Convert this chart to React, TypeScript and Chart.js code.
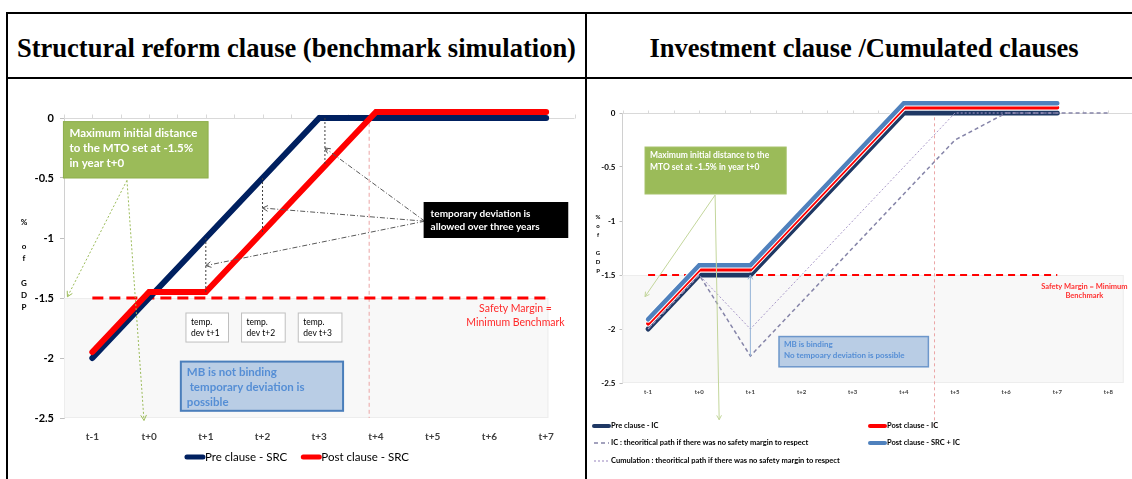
import React, { useEffect, useRef } from 'react';
import { Chart, registerables } from 'chart.js';

Chart.register(...registerables);

const SANS = 'Lato, "Open Sans", "DejaVu Sans", sans-serif';
const SERIF = '"Liberation Serif", "Times New Roman", serif';

// ---------------- Left panel: structural reform clause ----------------
const srcCategories = ['t-1', 't+0', 't+1', 't+2', 't+3', 't+4', 't+5', 't+6', 't+7'];
const srcPreClause = [-2, -1.5, -1, -0.5, 0, 0, 0, 0, 0];
const srcPostClause = [-1.95, -1.45, -1.45, -0.95, -0.45, 0.05, 0.05, 0.05, 0.05];
const srcSafetyMargin = [-1.5, -1.5, -1.5, -1.5, -1.5, -1.5, -1.5, -1.5, -1.5];
const srcYTicks = [-2.5, -2, -1.5, -1, -0.5, 0];
const srcYTitle = ['%', '', 'o', 'f', '', 'G', 'D', 'P'];
const srcGreenText = ['Maximum initial distance', 'to the MTO set at -1.5%', 'in year t+0'];
const srcBlackText = ['temporary deviation is', 'allowed over three years'];
const srcTempText = [['temp.', 'dev t+1'], ['temp.', 'dev t+2'], ['temp.', 'dev t+3']];
const srcBlueText = ['MB is not binding', ' temporary deviation is', 'possible'];
const srcSafetyText = ['Safety Margin =', 'Minimum Benchmark'];

// ---------------- Right panel: investment clause / cumulated ----------------
const icCategories = ['t-1', 't+0', 't+1', 't+2', 't+3', 't+4', 't+5', 't+6', 't+7', 't+8'];
const icPreClause = [-2, -1.5, -1.5, -1, -0.5, 0, 0, 0, 0, null];
const icPostClause = [-1.95, -1.45, -1.45, -0.95, -0.45, 0.05, 0.05, 0.05, 0.05, null];
const icPostSrcIc = [-1.91, -1.41, -1.41, -0.91, -0.41, 0.09, 0.09, 0.09, 0.09, null];
const icTheoretical = [-2, -1.5, -2.25, -1.75, -1.25, -0.75, -0.25, 0, 0, 0];
const cumTheoretical = [-2, -1.5, -2, -1.5, -1, -0.5, 0, 0, 0, null];
const icSafetyMargin = [-1.5, -1.5, -1.5, -1.5, -1.5, -1.5, -1.5, -1.5, -1.5, null];
const icYTicks = [-2.5, -2, -1.5, -1, -0.5, 0];
const icYTitle = ['%', 'o', 'f', '', 'G', 'D', 'P'];
const icGreenText = ['Maximum initial distance to the', 'MTO set at -1.5% in year t+0'];
const icBlueText = ['MB is binding', 'No tempoary deviation is possible'];
const icSafetyText = ['Safety Margin = Minimum', 'Benchmark'];

const srcLabels = { pre: 'Pre clause - SRC', post: 'Post clause - SRC' };
const icLabels = {
  pre: 'Pre clause - IC',
  post: 'Post clause - IC',
  both: 'Post clause - SRC + IC',
  ic: 'IC : theoritical path if there was no safety margin to respect',
  cum: 'Cumulation : theoritical path if there was no safety margin to respect',
};

// ---------------- colours ----------------
const NAVY = '#002060';
const NAVY_IC = '#1F3864';
const RED = '#FF0000';
const STEEL = '#4F81BD';
const IC_GREY = '#8584A8';
const CUM_LILAC = '#A999C9';
const GREEN = '#9BBB59';
const MB_FILL = '#B9CDE5';
const MB_TEXT = '#558ED5';
const SHADE = '#F8F8F8';
const PINK = '#EBA5A5';

const font = (size: number, weight = 'normal') => `${weight} ${size}px ${SANS}`;

type P = { x: number; y: number };

function toPx(chart: any, x: number, y: number): P {
  return { x: chart.scales.x.getPixelForValue(x), y: chart.scales.y.getPixelForValue(y) };
}

function line(ctx: CanvasRenderingContext2D, a: P, b: P, color: string, width: number, dash: number[] = []) {
  ctx.save();
  ctx.strokeStyle = color;
  ctx.lineWidth = width;
  ctx.setLineDash(dash);
  ctx.beginPath();
  ctx.moveTo(a.x, a.y);
  ctx.lineTo(b.x, b.y);
  ctx.stroke();
  ctx.restore();
}

function arrow(ctx: CanvasRenderingContext2D, a: P, b: P, color: string, width: number, dash: number[], head = 6) {
  line(ctx, a, b, color, width, dash);
  const ang = Math.atan2(b.y - a.y, b.x - a.x);
  ctx.save();
  ctx.strokeStyle = color;
  ctx.lineWidth = width;
  ctx.beginPath();
  ctx.moveTo(b.x - head * Math.cos(ang - 0.5), b.y - head * Math.sin(ang - 0.5));
  ctx.lineTo(b.x, b.y);
  ctx.lineTo(b.x - head * Math.cos(ang + 0.5), b.y - head * Math.sin(ang + 0.5));
  ctx.stroke();
  ctx.restore();
}

function box(
  ctx: CanvasRenderingContext2D,
  chart: any,
  r: { x0: number; x1: number; y0: number; y1: number },
  s: { fill: string; stroke?: string; strokeW?: number; lines: string[]; font: string; color: string; padX: number; first: number; step: number }
) {
  const a = toPx(chart, r.x0, r.y0);
  const b = toPx(chart, r.x1, r.y1);
  ctx.save();
  ctx.fillStyle = s.fill;
  ctx.fillRect(a.x, a.y, b.x - a.x, b.y - a.y);
  if (s.stroke) {
    ctx.strokeStyle = s.stroke;
    ctx.lineWidth = s.strokeW || 1;
    ctx.strokeRect(a.x, a.y, b.x - a.x, b.y - a.y);
  }
  ctx.font = s.font;
  ctx.fillStyle = s.color;
  ctx.textBaseline = 'middle';
  ctx.textAlign = 'left';
  s.lines.forEach((t, i) => ctx.fillText(t, a.x + s.padX, a.y + s.first + i * s.step));
  ctx.restore();
}

function zeroAxis(chart: any, color: string, tick: number) {
  const { ctx, chartArea } = chart;
  const y = Math.round(chart.scales.y.getPixelForValue(0)) + 0.5;
  ctx.save();
  ctx.strokeStyle = color;
  ctx.lineWidth = 1;
  ctx.beginPath();
  ctx.moveTo(chartArea.left, y);
  ctx.lineTo(chartArea.right, y);
  const n = chart.data.labels.length;
  for (let i = -0.5; i <= n - 0.5 + 1e-6; i += 0.5) {
    const x = Math.round(chart.scales.x.getPixelForValue(i)) + 0.5;
    ctx.moveTo(x, y);
    ctx.lineTo(x, y - tick);
  }
  ctx.stroke();
  ctx.restore();
}

function shade(chart: any, r: { x0: number; x1: number; y0: number; y1: number }) {
  const { ctx } = chart;
  const a = toPx(chart, r.x0, r.y0);
  const b = toPx(chart, r.x1, r.y1);
  ctx.save();
  ctx.fillStyle = SHADE;
  ctx.fillRect(a.x, a.y, b.x - a.x, b.y - a.y);
  ctx.strokeStyle = '#EDEDED';
  ctx.lineWidth = 1;
  ctx.strokeRect(a.x + 0.5, a.y + 0.5, b.x - a.x - 1, b.y - a.y - 1);
  ctx.restore();
}

function stackedTitle(ctx: CanvasRenderingContext2D, letters: string[], x: number, y: number, step: number, f: string) {
  ctx.save();
  ctx.font = f;
  ctx.fillStyle = '#000';
  ctx.textAlign = 'center';
  ctx.textBaseline = 'middle';
  letters.forEach((l, i) => ctx.fillText(l, x, y + i * step));
  ctx.restore();
}

function swatch(ctx: CanvasRenderingContext2D, x: number, y: number, w: number, ds: any) {
  ctx.save();
  ctx.strokeStyle = ds.borderColor;
  ctx.lineWidth = ds.legendWidth || ds.borderWidth;
  ctx.lineCap = ds.borderDash && ds.borderDash.length ? 'butt' : 'round';
  ctx.setLineDash(ds.borderDash || []);
  ctx.beginPath();
  ctx.moveTo(x, y);
  ctx.lineTo(x + w, y);
  ctx.stroke();
  ctx.restore();
}

const lineBase = {
  pointRadius: 0,
  pointHoverRadius: 0,
  fill: false,
  tension: 0,
  clip: false as any,
  borderCapStyle: 'round' as const,
  borderJoinStyle: 'miter' as const,
};

// ---------------- left chart ----------------
function buildSrc(canvas: HTMLCanvasElement) {
  const L = {
    shade: { x0: -0.5, x1: 8.04, y0: -1.5, y1: -2.5 },
    marker: { x: 4.88, y0: -0.04, y1: -2.5 },
    devLines: [
      { x: 2, y0: -1.0, y1: -1.45 },
      { x: 3, y0: -0.5, y1: -0.95 },
      { x: 4.1, y0: 0, y1: -0.4 },
    ],
    devFrom: { x: 5.86, y: -0.86 },
    devTo: [
      { x: 4.1, y: -0.25 },
      { x: 3, y: -0.75 },
      { x: 2, y: -1.23 },
    ],
    green: { x0: -0.51, x1: 2.04, y0: -0.03, y1: -0.5 },
    greenFrom: { x: 0.61, y: -0.52 },
    greenTo: [
      { x: -0.44, y: -1.49 },
      { x: 0.91, y: -2.52 },
    ],
    black: { x0: 5.84, x1: 8.39, y0: -0.7, y1: -1.0 },
    temp: [
      { x0: 1.65, x1: 2.4, y0: -1.625, y1: -1.867 },
      { x0: 2.63, x1: 3.4, y0: -1.625, y1: -1.867 },
      { x0: 3.63, x1: 4.4, y0: -1.625, y1: -1.867 },
    ],
    blue: { x0: 1.56, x1: 4.42, y0: -2.03, y1: -2.44 },
    safety: { x: 7.46, y: [-1.592, -1.708] },
  };

  const notes = {
    id: 'srcNotes',
    beforeDatasetsDraw(chart: any) {
      const { ctx } = chart;
      shade(chart, L.shade);
      zeroAxis(chart, '#D9D9D9', 4);
      line(ctx, toPx(chart, L.marker.x, L.marker.y0), toPx(chart, L.marker.x, L.marker.y1), PINK, 1, [4, 3]);
    },
    afterDatasetsDraw(chart: any) {
      const { ctx } = chart;
      L.devLines.forEach((d) => line(ctx, toPx(chart, d.x, d.y0), toPx(chart, d.x, d.y1), '#404040', 1, [2, 2]));
      const from = toPx(chart, L.devFrom.x, L.devFrom.y);
      L.devTo.forEach((t) => arrow(ctx, from, toPx(chart, t.x, t.y), '#595959', 1, [5, 2, 1, 2], 6));
      const gf = toPx(chart, L.greenFrom.x, L.greenFrom.y);
      L.greenTo.forEach((t) => arrow(ctx, gf, toPx(chart, t.x, t.y), GREEN, 1, [2, 2], 6));
      box(ctx, chart, L.green, {
        fill: GREEN, stroke: '#8DAE4C', lines: srcGreenText, font: font(11.5, 'bold'), color: '#FFFFFF', padX: 6, first: 12, step: 15,
      });
      box(ctx, chart, L.black, {
        fill: '#000000', lines: srcBlackText, font: font(10, 'bold'), color: '#FFFFFF', padX: 7, first: 12, step: 13,
      });
      L.temp.forEach((r, i) =>
        box(ctx, chart, r, {
          fill: '#FFFFFF', stroke: '#BFBFBF', lines: srcTempText[i], font: font(8.5), color: '#000000', padX: 5, first: 9, step: 11,
        })
      );
      box(ctx, chart, L.blue, {
        fill: MB_FILL, stroke: '#4A7EBB', strokeW: 2, lines: srcBlueText, font: font(11.5, 'bold'), color: MB_TEXT, padX: 6, first: 11, step: 15,
      });
      ctx.save();
      ctx.font = font(10.5);
      ctx.fillStyle = '#FF2A2A';
      ctx.textAlign = 'center';
      ctx.textBaseline = 'middle';
      srcSafetyText.forEach((t, i) => {
        const p = toPx(chart, L.safety.x, L.safety.y[i]);
        ctx.fillText(t, p.x, p.y);
      });
      ctx.restore();
    },
    afterDraw(chart: any) {
      const { ctx, width } = chart;
      stackedTitle(ctx, srcYTitle, 15, 142, 12.2, font(8, 'bold'));
      const items = [chart.data.datasets[1], chart.data.datasets[0]];
      ctx.save();
      ctx.font = font(11.5);
      const sw = 20;
      const gap = 14;
      const widths = items.map((d: any) => ctx.measureText(d.label).width);
      const total = widths.reduce((s: number, w: number) => s + w + sw, 0) + gap;
      let x = width / 2 - total / 2;
      const y = 377;
      items.forEach((d: any, i: number) => {
        swatch(ctx, x + 2, y, sw - 4, d);
        ctx.fillStyle = '#000';
        ctx.textBaseline = 'middle';
        ctx.textAlign = 'left';
        ctx.fillText(d.label, x + sw, y);
        x += sw + widths[i] + gap;
      });
      ctx.restore();
    },
  };

  return new Chart(canvas, {
    type: 'line',
    data: {
      labels: srcCategories,
      datasets: [
        { ...lineBase, label: srcLabels.post, data: srcPostClause, borderColor: RED, borderWidth: 6, order: 1, legendWidth: 5 } as any,
        { ...lineBase, label: srcLabels.pre, data: srcPreClause, borderColor: NAVY, borderWidth: 6, order: 2, legendWidth: 5 } as any,
        { ...lineBase, label: 'Safety margin', data: srcSafetyMargin, borderColor: RED, borderWidth: 3, borderDash: [11, 6], borderCapStyle: 'butt', order: 3 } as any,
      ],
    },
    options: {
      responsive: false,
      animation: false,
      layout: { padding: { top: 38, left: 0, right: 10.5, bottom: 0 } },
      plugins: { legend: { display: false }, tooltip: { enabled: false } },
      scales: {
        x: {
          type: 'category',
          offset: true,
          grid: { display: false, drawTicks: false },
          border: { display: false },
          ticks: { font: { family: SANS, size: 10, weight: 'bold' }, color: '#404040', padding: 13, maxRotation: 0, autoSkip: false },
          afterFit: (s: any) => { s.height = 61; },
        },
        y: {
          min: -2.5,
          max: 0,
          afterBuildTicks: (s: any) => { s.ticks = srcYTicks.map((v) => ({ value: v })); },
          grid: { drawOnChartArea: false, drawTicks: true, tickLength: 4, color: '#BFBFBF' },
          border: { display: true, color: '#D0D0D0' },
          ticks: { font: { family: SANS, size: 11, weight: 'bold' }, color: '#000', padding: 6, callback: (v: any) => String(v) },
          afterFit: (s: any) => { s.width = 55; },
        },
      },
    } as any,
    plugins: [notes],
  });
}

// ---------------- right chart ----------------
function buildIc(canvas: HTMLCanvasElement) {
  const L = {
    shade: { x0: -0.5, x1: 9.3, y0: -1.5, y1: -2.5 },
    marker: { x: 5.6, y0: -0.04, y1: -2.9 },
    green: { x0: -0.06, x1: 2.7, y0: -0.315, y1: -0.75 },
    greenFrom: { x: 1.31, y: -0.76 },
    greenTo: [
      { x: -0.06, y: -1.7 },
      { x: 1.39, y: -2.84 },
    ],
    mbArrowX: 2,
    blue: { x0: 2.56, x1: 5.48, y0: -2.07, y1: -2.35 },
    safety: { x: 8.53, y: [-1.61, -1.69] },
    legend: [
      { key: icLabels.pre, x: 4, y: 346 },
      { key: icLabels.post, x: 280, y: 346 },
      { key: icLabels.ic, x: 4, y: 363 },
      { key: icLabels.both, x: 280, y: 363 },
      { key: icLabels.cum, x: 4, y: 381 },
    ],
  };

  const notes = {
    id: 'icNotes',
    beforeDatasetsDraw(chart: any) {
      const { ctx } = chart;
      shade(chart, L.shade);
      zeroAxis(chart, '#D9D9D9', 3);
      line(ctx, toPx(chart, L.marker.x, L.marker.y0), toPx(chart, L.marker.x, L.marker.y1), PINK, 1, [3, 3]);
    },
    afterDatasetsDraw(chart: any) {
      const { ctx } = chart;
      const i = L.mbArrowX;
      arrow(ctx, toPx(chart, i, icTheoretical[i] as number), toPx(chart, i, icSafetyMargin[i] as number), '#95B3D7', 1, [], 5);
      const gf = toPx(chart, L.greenFrom.x, L.greenFrom.y);
      L.greenTo.forEach((t) => arrow(ctx, gf, toPx(chart, t.x, t.y), '#C3D69B', 1, [], 5));
      box(ctx, chart, L.green, {
        fill: GREEN, stroke: '#A6C26A', lines: icGreenText, font: font(8.5, 'bold'), color: '#FFFFFF', padX: 5, first: 8, step: 12,
      });
      box(ctx, chart, L.blue, {
        fill: MB_FILL, stroke: '#6D97CB', strokeW: 1.5, lines: icBlueText, font: font(8, 'bold'), color: MB_TEXT, padX: 5, first: 8, step: 11,
      });
      ctx.save();
      ctx.font = font(7.5, 'bold');
      ctx.fillStyle = '#FF3030';
      ctx.textAlign = 'center';
      ctx.textBaseline = 'middle';
      icSafetyText.forEach((t, k) => {
        const p = toPx(chart, L.safety.x, L.safety.y[k]);
        ctx.fillText(t, p.x, p.y);
      });
      ctx.restore();
    },
    afterDraw(chart: any) {
      const { ctx } = chart;
      stackedTitle(ctx, icYTitle, 10, 137, 9, font(6, 'bold'));
      ctx.save();
      ctx.font = font(7.5, 'bold');
      L.legend.forEach((it) => {
        const d = chart.data.datasets.find((s: any) => s.label === it.key);
        swatch(ctx, it.x + 2, it.y, 15, d);
        ctx.fillStyle = '#000';
        ctx.textBaseline = 'middle';
        ctx.textAlign = 'left';
        ctx.fillText(it.key, it.x + 19, it.y);
      });
      ctx.restore();
    },
  };

  return new Chart(canvas, {
    type: 'line',
    data: {
      labels: icCategories,
      datasets: [
        { ...lineBase, label: icLabels.cum, data: cumTheoretical, borderColor: CUM_LILAC, borderWidth: 1, borderDash: [2, 2], borderCapStyle: 'butt', order: 0, legendWidth: 1.2 } as any,
        { ...lineBase, label: icLabels.ic, data: icTheoretical, borderColor: IC_GREY, borderWidth: 1.5, borderDash: [4, 3], borderCapStyle: 'butt', order: 1, legendWidth: 1.5 } as any,
        { ...lineBase, label: icLabels.both, data: icPostSrcIc, borderColor: STEEL, borderWidth: 4.5, order: 2, legendWidth: 4 } as any,
        { ...lineBase, label: 'outline-both', data: icPostSrcIc, borderColor: '#FFFFFF', borderWidth: 6.5, order: 3 } as any,
        { ...lineBase, label: icLabels.post, data: icPostClause, borderColor: RED, borderWidth: 4, order: 4, legendWidth: 4 } as any,
        { ...lineBase, label: 'outline-post', data: icPostClause, borderColor: '#FFFFFF', borderWidth: 6, order: 5 } as any,
        { ...lineBase, label: icLabels.pre, data: icPreClause, borderColor: NAVY_IC, borderWidth: 5, order: 6, legendWidth: 4 } as any,
        { ...lineBase, label: 'Safety margin', data: icSafetyMargin, borderColor: RED, borderWidth: 2, borderDash: [7, 5], borderCapStyle: 'butt', order: 7 } as any,
      ],
    },
    options: {
      responsive: false,
      animation: false,
      layout: { padding: { top: 33, left: 0, right: 0, bottom: 0 } },
      plugins: { legend: { display: false }, tooltip: { enabled: false } },
      scales: {
        x: {
          type: 'category',
          offset: true,
          grid: { display: false, drawTicks: false },
          border: { display: false },
          ticks: { font: { family: SANS, size: 6, weight: 'bold' }, color: '#404040', padding: 5, maxRotation: 0, autoSkip: false },
          afterFit: (s: any) => { s.height = 96; },
        },
        y: {
          min: -2.5,
          max: 0,
          afterBuildTicks: (s: any) => { s.ticks = icYTicks.map((v) => ({ value: v })); },
          grid: { drawOnChartArea: false, drawTicks: true, tickLength: 3, color: '#BFBFBF' },
          border: { display: true, color: '#D0D0D0' },
          ticks: { font: { family: SANS, size: 8, weight: 'bold' }, color: '#000', padding: 4, callback: (v: any) => String(v) },
          afterFit: (s: any) => { s.width = 34.5; },
        },
      },
    } as any,
    plugins: [notes],
  });
}

function ChartBox({ build, left, top, width, height }: { build: (c: HTMLCanvasElement) => Chart; left: number; top: number; width: number; height: number }) {
  const ref = useRef<HTMLCanvasElement>(null);
  useEffect(() => {
    const chart = build(ref.current as HTMLCanvasElement);
    return () => chart.destroy();
  }, [build]);
  return (
    <div style={{ position: 'absolute', left, top, width, height }}>
      <canvas ref={ref} width={width} height={height} style={{ display: 'block', width, height }} />
    </div>
  );
}

const rule = (left: number, top: number, width: number, height: number) => (
  <div style={{ position: 'absolute', left, top, width, height, background: '#000' }} />
);

export default function App() {
  return (
    <div style={{ position: 'absolute', left: 0, top: 0, width: 1132, height: 479, overflow: 'hidden', background: '#fff' }}>
      <ChartBox build={buildSrc} left={9} top={80} width={576} height={399} />
      <ChartBox build={buildIc} left={588} top={80} width={546} height={399} />
      {rule(6, 12, 1126, 2)}
      {rule(6, 77, 1126, 2)}
      {rule(6, 12, 2, 467)}
      {rule(585, 12, 2, 467)}
      <div style={{ position: 'absolute', left: 8, top: 33, width: 577, height: 30, lineHeight: '30px', textAlign: 'center', font: `bold 26.5px ${SERIF}`, color: '#000', whiteSpace: 'nowrap' }}>
        Structural reform clause (benchmark simulation)
      </div>
      <div style={{ position: 'absolute', left: 587, top: 33, width: 554, height: 30, lineHeight: '30px', textAlign: 'center', font: `bold 26.5px ${SERIF}`, color: '#000', whiteSpace: 'nowrap' }}>
        Investment clause /Cumulated clauses
      </div>
    </div>
  );
}
